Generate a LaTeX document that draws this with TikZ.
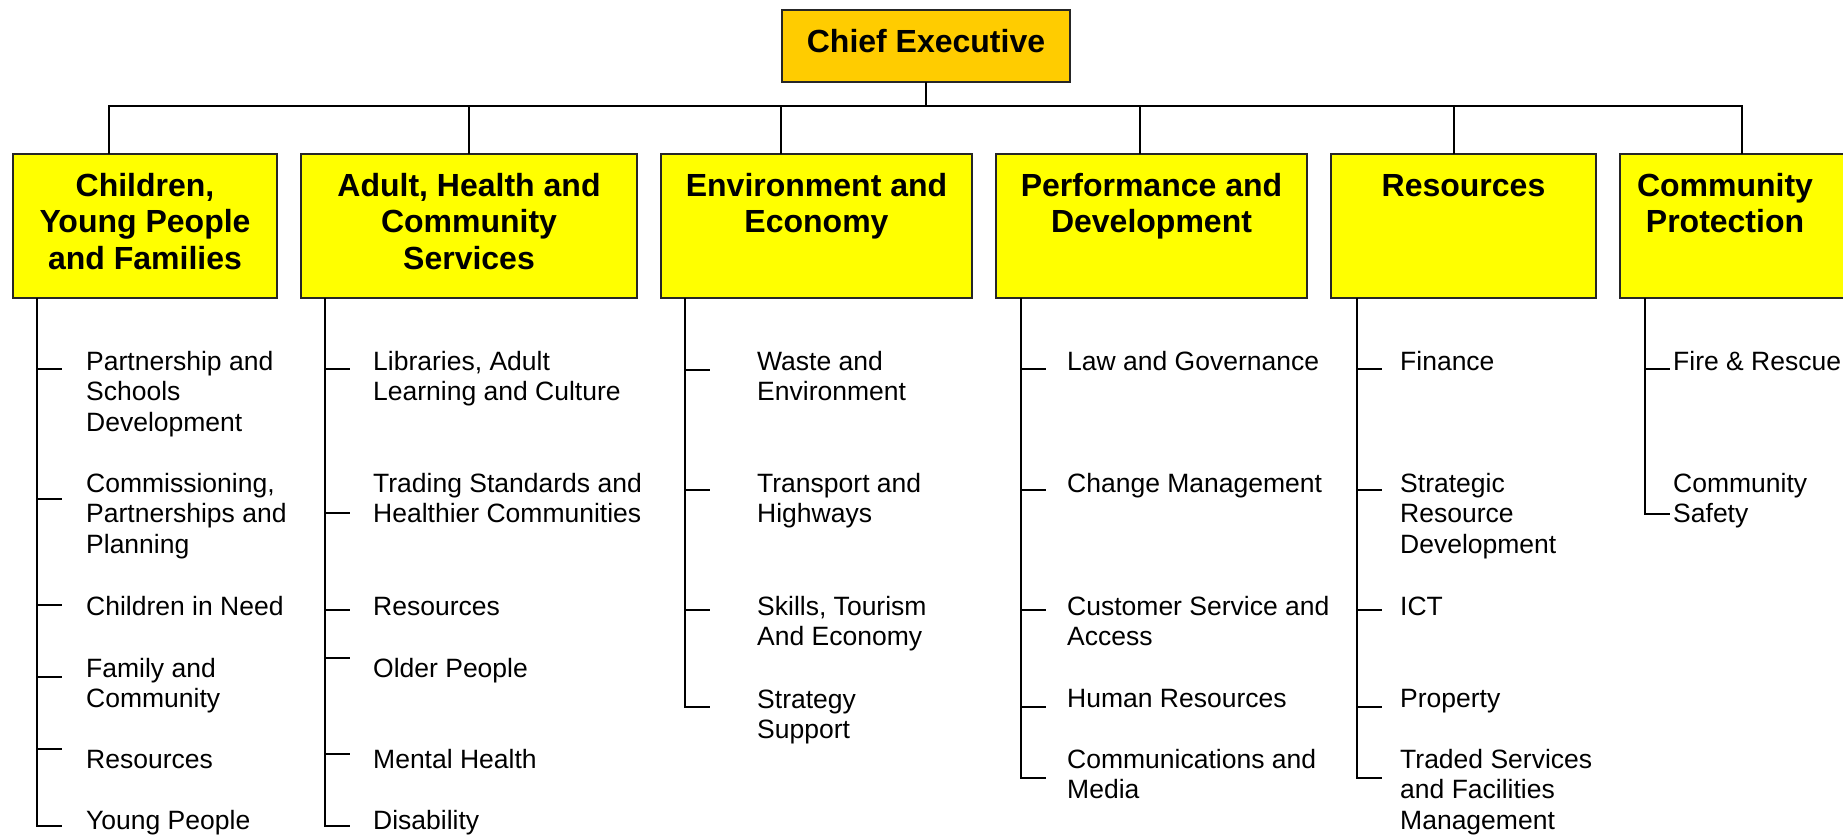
\documentclass[tikz,border=0pt]{standalone}
\usepackage{fontspec}
\setmainfont{Liberation Sans}
\usetikzlibrary{positioning,calc}
\definecolor{OrgYellow}{HTML}{FFFF00}
\definecolor{OrgGold}{HTML}{FFCC00}
\newcommand\itemfont{\fontsize{26.5}{30.5}\selectfont}
\newcommand\headfont{\fontsize{32}{36.8}\selectfont\bfseries}
\newcommand\orglines[2][l]{\begin{tabular}[t]{@{}#1@{}}#2\end{tabular}}

\begin{document}
\begin{tikzpicture}[x=1pt, y=-1pt,
    node distance=24pt,
    dept/.style={draw=black!85, line width=2pt, fill=OrgYellow, minimum height=144pt, inner sep=0pt, outer sep=0pt},
    chief/.style={dept, fill=OrgGold, minimum width=288pt, minimum height=72pt, font=\headfont, text height=23pt, text depth=11pt},
    head/.style={anchor=base, inner sep=0pt, font=\headfont},
    item/.style={anchor=base west, inner sep=0pt, font=\itemfont},
    conn/.style={line width=2pt, draw=black}
  ]
    \useasboundingbox (0,0) rectangle (1843,835);
    \fill[white] (0,0) rectangle (1843,835);

    \node[chief] (chief) at (926,46) {Chief Executive};

    % directorates
    \node[dept, minimum width=264pt] (cyp) at (145,226) {};
    \node[dept, minimum width=336pt, right=of cyp] (ahcs) {};
    \node[dept, minimum width=311pt, right=of ahcs] (envec) {};
    \node[dept, minimum width=311pt, right=of envec] (perf) {};
    \node[dept, minimum width=265pt, right=of perf] (res) {};
    \node[dept, minimum width=240pt, right=of res] (prot) {};

    \node[head] (cypT) at ($(cyp.north)+(0,42)$) {\orglines[c]{Children,\\Young People\\and Families}};
    \node[head] (ahcsT) at ($(ahcs.north)+(0,42)$) {\orglines[c]{Adult, Health and\\Community\\Services}};
    \node[head] (envecT) at ($(envec.north)+(0,42)$) {\orglines[c]{Environment and\\Economy}};
    \node[head] (perfT) at ($(perf.north)+(0,42)$) {\orglines[c]{Performance and\\Development}};
    \node[head] (resT) at ($(res.north)+(0,42)$) {Resources};
    \node[head] (protT) at ($(prot.north west)+(105,42)$) {\orglines[c]{Community\\Protection}};

    % bus from the chief executive
    \coordinate (bus) at (0,106);
    \coordinate (cypIn) at ($(cyp.north west)+(96,0)$);
    \coordinate (ahcsIn) at ($(ahcs.north west)+(168,0)$);
    \coordinate (envecIn) at ($(envec.north west)+(120,0)$);
    \coordinate (perfIn) at ($(perf.north west)+(144,0)$);
    \coordinate (resIn) at ($(res.north west)+(123,0)$);
    \coordinate (protIn) at ($(prot.north west)+(122,0)$);
    \draw[conn] (chief.south) -- (chief.south |- bus);
    \draw[conn] (cypIn) |- (bus -| protIn) -- (protIn);
    \foreach \d in {ahcsIn,envecIn,perfIn,resIn}
      \draw[conn] (\d) -- (\d |- bus);

    % Children, Young People and Families
    \coordinate (cypS) at ($(cyp.south west)+(24,0)$);
    \node[item] (cyp1) at (86,370) {\orglines{Partnership and\\Schools\\Development}};
    \node[item] (cyp2) at (86,492) {\orglines{Commissioning,\\Partnerships and\\Planning}};
    \node[item] (cyp3) at (86,615) {Children in Need};
    \node[item] (cyp4) at (86,677) {\orglines{Family and\\Community}};
    \node[item] (cyp5) at (86,768) {Resources};
    \node[item] (cyp6) at (86,829) {Young People};
    \foreach \ty in {369,499,605,677,749}
      \draw[conn] (cypS |- 0,\ty) -- ++(25,0);
    \draw[conn] (cypS) -- (cypS |- 0,826) -- ++(25,0);

    % Adult, Health and Community Services
    \coordinate (ahcsS) at ($(ahcs.south west)+(24,0)$);
    \node[item] (ahcs1) at (373,370) {\orglines{Libraries, Adult\\Learning and Culture}};
    \node[item] (ahcs2) at (373,492) {\orglines{Trading Standards and\\Healthier Communities}};
    \node[item] (ahcs3) at (373,615) {Resources};
    \node[item] (ahcs4) at (373,677) {Older People};
    \node[item] (ahcs5) at (373,768) {Mental Health};
    \node[item] (ahcs6) at (373,829) {Disability};
    \foreach \ty in {369,513,610,658,754}
      \draw[conn] (ahcsS |- 0,\ty) -- ++(25,0);
    \draw[conn] (ahcsS) -- (ahcsS |- 0,826) -- ++(25,0);

    % Environment and Economy
    \coordinate (envecS) at ($(envec.south west)+(24,0)$);
    \node[item] (envec1) at (757,370) {\orglines{Waste and\\Environment}};
    \node[item] (envec2) at (757,492) {\orglines{Transport and\\Highways}};
    \node[item] (envec3) at (757,615) {\orglines{Skills, Tourism\\And Economy}};
    \node[item] (envec4) at (757,708) {\orglines{Strategy\\Support}};
    \foreach \ty in {370,490,610}
      \draw[conn] (envecS |- 0,\ty) -- ++(25,0);
    \draw[conn] (envecS) -- (envecS |- 0,707) -- ++(25,0);

    % Performance and Development
    \coordinate (perfS) at ($(perf.south west)+(25,0)$);
    \node[item] (perf1) at (1067,370) {Law and Governance};
    \node[item] (perf2) at (1067,492) {Change Management};
    \node[item] (perf3) at (1067,615) {\orglines{Customer Service and\\Access}};
    \node[item] (perf4) at (1067,707) {Human Resources};
    \node[item] (perf5) at (1067,768) {\orglines{Communications and\\Media}};
    \foreach \ty in {369,490,610,707}
      \draw[conn] (perfS |- 0,\ty) -- ++(25,0);
    \draw[conn] (perfS) -- (perfS |- 0,778) -- ++(25,0);

    % Resources
    \coordinate (resS) at ($(res.south west)+(26,0)$);
    \node[item] (res1) at (1400,370) {Finance};
    \node[item] (res2) at (1400,492) {\orglines{Strategic\\Resource\\Development}};
    \node[item] (res3) at (1400,615) {ICT};
    \node[item] (res4) at (1400,707) {Property};
    \node[item] (res5) at (1400,768) {\orglines{Traded Services\\and Facilities\\Management}};
    \foreach \ty in {369,490,610,707}
      \draw[conn] (resS |- 0,\ty) -- ++(25,0);
    \draw[conn] (resS) -- (resS |- 0,778) -- ++(25,0);

    % Community Protection
    \coordinate (protS) at ($(prot.south west)+(25,0)$);
    \node[item] (prot1) at (1673,370) {Fire \& Rescue};
    \node[item] (prot2) at (1673,492) {\orglines{Community\\Safety}};
    \draw[conn] (protS |- 0,369) -- ++(25,0);
    \draw[conn] (protS) -- (protS |- 0,514) -- ++(25,0);
  \end{tikzpicture}
\end{document}
